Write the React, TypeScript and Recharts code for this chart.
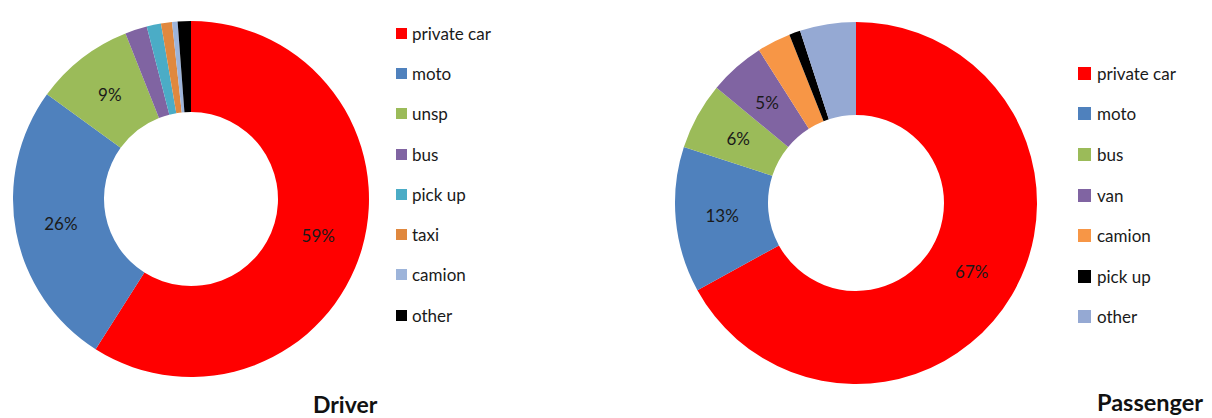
import React from 'react';
import { PieChart, Pie, Cell, Legend } from 'recharts';

const driverCategories = ['private car', 'moto', 'unsp', 'bus', 'pick up', 'taxi', 'camion', 'other'];
const driverValues = [59, 26, 9, 2, 1.3, 1, 0.5, 1.2];
const driverLabelShown = [true, true, true, false, false, false, false, false];
const driverColors = ['#FF0000', '#4F81BD', '#9BBB59', '#8064A2', '#4BACC6', '#E0883E', '#9DB4DA', '#000000'];

const passengerCategories = ['private car', 'moto', 'bus', 'van', 'camion', 'pick up', 'other'];
const passengerValues = [67, 13, 6, 5, 3, 1, 5];
const passengerLabelShown = [true, true, true, true, false, false, false];
const passengerColors = ['#FF0000', '#4F81BD', '#9BBB59', '#8064A2', '#F79646', '#000000', '#95A9D3'];

const titles = ['Driver', 'Passenger'];

const driverData = driverCategories.map((name, i) => ({ name, value: driverValues[i], show: driverLabelShown[i] }));
const passengerData = passengerCategories.map((name, i) => ({ name, value: passengerValues[i], show: passengerLabelShown[i] }));

const FONT = 'Lato, "Open Sans", sans-serif';
const RAD = Math.PI / 180;

const renderLabel = (props: any) => {
  const { cx, cy, midAngle, innerRadius, outerRadius, percent, payload } = props;
  const show = payload && (payload.show ?? (payload.payload && payload.payload.show));
  if (!show) return null;
  const r = (innerRadius + outerRadius) / 2;
  const x = cx + r * Math.cos(-midAngle * RAD);
  const y = cy + r * Math.sin(-midAngle * RAD);
  return (
    <text x={x} y={y} textAnchor="middle" dominantBaseline="central" fill="#1a1a1a" fontSize={17} fontFamily={FONT}>
      {`${Math.round(percent * 100)}%`}
    </text>
  );
};

const makeLegend = (names: string[], colors: string[], rowH: number, sq: number, gap: number) => () => (
  <div style={{ fontFamily: FONT, fontSize: 17, color: '#1a1a1a' }}>
    {names.map((name, i) => (
      <div key={name} style={{ height: rowH, display: 'flex', alignItems: 'center' }}>
        <div style={{ width: sq, height: sq, background: colors[i], marginRight: gap }} />
        <span>{name}</span>
      </div>
    ))}
  </div>
);

export default function App() {
  return (
    <div style={{ position: 'absolute', left: 0, top: 0, width: 1212, height: 418, background: '#fff' }}>
      <div style={{ position: 'absolute', left: 0, top: 0 }}>
        <PieChart width={606} height={418}>
          <Pie
            data={driverData}
            dataKey="value"
            nameKey="name"
            cx={186}
            cy={194}
            innerRadius={87}
            outerRadius={178}
            startAngle={90}
            endAngle={-270}
            stroke="none"
            isAnimationActive={false}
            label={renderLabel}
            labelLine={false}
          >
            {driverData.map((d, i) => (
              <Cell key={d.name} fill={driverColors[i]} />
            ))}
          </Pie>
          <Legend
            layout="vertical"
            content={makeLegend(driverCategories, driverColors, 40.3, 11, 5)}
            wrapperStyle={{ position: 'absolute', left: 396, top: 13, width: 200 }}
          />
        </PieChart>
      </div>
      <div style={{ position: 'absolute', left: 606, top: 0 }}>
        <PieChart width={606} height={418}>
          <Pie
            data={passengerData}
            dataKey="value"
            nameKey="name"
            cx={245}
            cy={198}
            innerRadius={88}
            outerRadius={181}
            startAngle={90}
            endAngle={-270}
            stroke="none"
            isAnimationActive={false}
            label={renderLabel}
            labelLine={false}
          >
            {passengerData.map((d, i) => (
              <Cell key={d.name} fill={passengerColors[i]} />
            ))}
          </Pie>
          <Legend
            layout="vertical"
            content={makeLegend(passengerCategories, passengerColors, 40.6, 13, 6)}
            wrapperStyle={{ position: 'absolute', left: 472, top: 53, width: 130 }}
          />
        </PieChart>
      </div>
      <div style={{ position: 'absolute', left: 313, top: 391, fontFamily: FONT, fontWeight: 700, fontSize: 23, lineHeight: '26px', color: '#111' }}>
        {titles[0]}
      </div>
      <div style={{ position: 'absolute', left: 1097, top: 389, fontFamily: FONT, fontWeight: 700, fontSize: 23.5, lineHeight: '26px', color: '#111' }}>
        {titles[1]}
      </div>
    </div>
  );
}
